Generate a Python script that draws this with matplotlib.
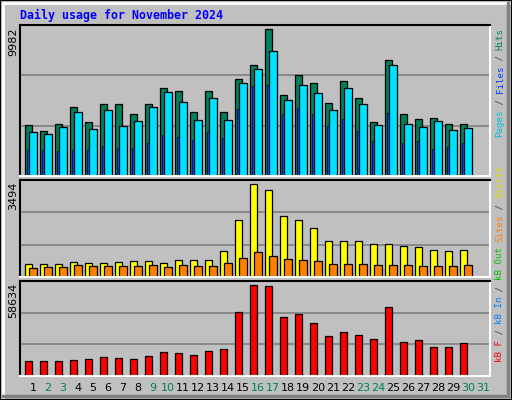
import numpy as np
import matplotlib
matplotlib.use('Agg')
import matplotlib.pyplot as plt
from matplotlib.patches import Rectangle
from matplotlib.lines import Line2D

# Data
days = np.arange(1, 31)
hits = [3371, 2975, 3437, 4561, 3569, 4759, 4759, 4098, 4759, 5817, 5619, 4231, 5619, 4231, 6412,
        7337, 9717, 5354, 6676, 6147, 4825, 6280, 5156, 3569, 7668, 4098, 3768, 3834, 3437, 3437]
files = [2908, 2776, 3239, 4231, 3107, 4363, 3305, 3636, 4561, 5552, 4891, 3702, 5156, 3702, 6147,
         7073, 8263, 5024, 6015, 5486, 4363, 5817, 4759, 3371, 7337, 3437, 3239, 3636, 3041, 3173]
pages = [1719, 1719, 1653, 1719, 1719, 1983, 1851, 1851, 2181, 2710, 2578, 2380, 2908, 2512, 4429,
         5949, 6015, 4098, 4495, 4098, 3305, 3768, 2975, 2314, 4164, 2181, 2314, 1785, 1917, 2181]
visits = [457, 457, 457, 529, 493, 493, 529, 565, 565, 493, 601, 601, 601, 925, 2041,
          3360, 3133, 2197, 2053, 1765, 1297, 1297, 1297, 1190, 1190, 1117, 1081, 973, 937, 973]
sites = [313, 349, 349, 421, 385, 385, 385, 385, 421, 349, 421, 385, 385, 493, 673,
         889, 745, 637, 601, 565, 457, 457, 457, 421, 421, 421, 385, 385, 385, 421]
kbytes = [9040, 9040, 9040, 9655, 10270, 11500, 10885, 10270, 12115, 14575, 13960, 12730, 15190, 16420, 39790,
          56400, 55600, 36285, 38130, 32600, 24600, 27060, 25215, 22755, 42435, 20910, 22140, 17835, 17835, 20295]
max_hits, max_visits, max_kb = 9982, 3494, 58634
weekend = [2, 3, 9, 10, 16, 17, 23, 24, 30, 31]

W, H = 512, 400
fig = plt.figure(figsize=(W / 100, H / 100), dpi=100, facecolor='#C0C0C0')

# window bevel
fig.add_artist(Rectangle((0, 0), 1, 1, transform=fig.transFigure, fill=False, ec='black', lw=1.5))
fig.add_artist(Line2D([3 / W, 3 / W, 1 - 3 / W], [3 / H, 1 - 3 / H, 1 - 3 / H], transform=fig.transFigure, color='white', lw=2))
fig.add_artist(Line2D([3 / W, 1 - 4 / W, 1 - 4 / W], [4 / H, 4 / H, 1 - 3 / H], transform=fig.transFigure, color='#808080', lw=2.5))


def panel(top, bottom, ymax, label):
    ax = fig.add_axes([20 / W, 1 - bottom / H, 470 / W, (bottom - top) / H])
    ax.set_facecolor('#C0C0C0')
    ax.set_xlim(0.5, 0.5 + 470 / 15)
    ax.set_ylim(0, ymax)
    ax.set_xticks([])
    ax.set_yticks([])
    for f in (1 / 3, 2 / 3):
        ax.axhline(ymax * f, color='#808080', lw=1.2, zorder=0)
    ax.spines['top'].set_color('black')
    ax.spines['left'].set_color('black')
    ax.spines['bottom'].set_color('white')
    ax.spines['right'].set_color('white')
    for s in ax.spines.values():
        s.set_linewidth(1.5)
    fig.text(13 / W, 1 - (top + 2) / H, label, rotation=90, ha='center', va='top', fontsize=8)
    return ax


edge = dict(edgecolor='black', linewidth=0.9, align='edge')

ax1 = panel(25, 176, max_hits, str(max_hits))
ax1.bar(days - 0.17, hits, 0.5, color='#00805C', **edge)
ax1.bar(days + 0.11, files, 0.5, color='#00E0FF', **edge)
ax1.bar(days - 0.04, pages, 0.14, color='#0040FF', edgecolor='black', linewidth=0.5, align='edge')

ax2 = panel(180, 277, max_visits, str(max_visits))
ax2.bar(days - 0.17, visits, 0.5, color='#FFFF00', **edge)
ax2.bar(days + 0.11, sites, 0.5, color='#FF8000', **edge)

ax3 = panel(281, 376, max_kb, str(max_kb))
ax3.bar(days - 0.17, kbytes, 0.5, color='#FF0000', **edge)

for d in range(1, 32):
    ax3.text(d + 0.37, -0.13, str(d), transform=ax3.get_xaxis_transform(), ha='center', va='center',
             fontsize=8, color='#00805C' if d in weekend else 'black')

fig.text(20 / W, 1 - 15 / H, 'Daily usage for November 2024', color='#0000FF', fontsize=8.4,
         fontweight='bold', family='DejaVu Sans Mono', ha='left', va='center')

# legend text on the right edge, stacked bottom to top
pitch = 5.45


def stack(bottom_px, parts):
    y = bottom_px
    for txt, col in parts:
        fig.text(500 / W, 1 - y / H, txt, rotation=90, color=col, fontsize=6.6,
                 family='DejaVu Sans Mono', ha='center', va='bottom')
        y -= pitch * len(txt)


stack(137, [('Pages', '#00C0E0'), (' / ', '#404040'), ('Files', '#0040FF'), (' / ', '#404040'), ('Hits', '#00805C')])
stack(362, [('kB F', '#FF0000'), (' / ', '#404040'), ('kB In', '#0080FF'), (' / ', '#404040'),
            ('kB Out', '#00C000'), (' ', '#404040'), ('Sites', '#FF8000'), (' / ', '#404040'), ('Visits', '#E0E000')])

fig.savefig('out.png', dpi=100, facecolor=fig.get_facecolor())
